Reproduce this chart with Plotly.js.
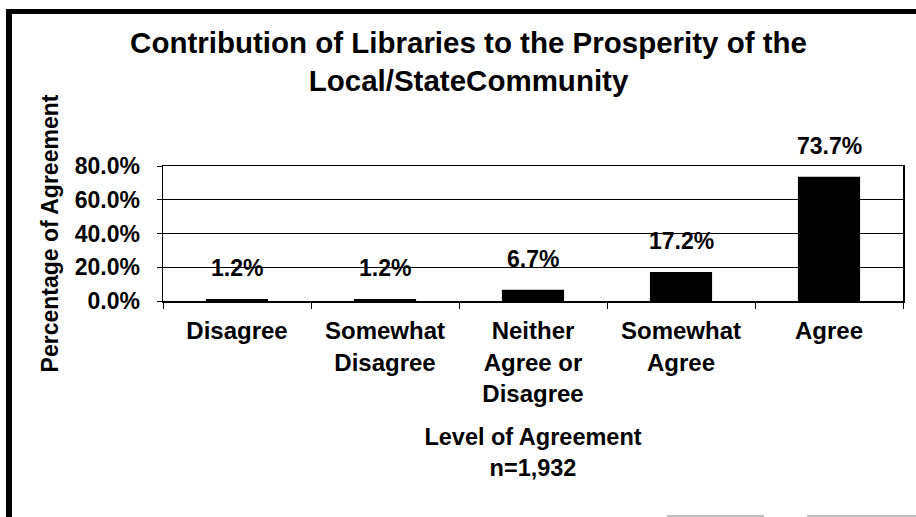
<!DOCTYPE html>
<html>
<head>
<meta charset="utf-8">
<script src="https://cdn.plot.ly/plotly-3.0.1.min.js"></script>
<style>
  html, body { margin: 0; padding: 0; background: #fff; }
  #wrap { position: relative; width: 916px; height: 517px; overflow: hidden; }
  #chart { position: absolute; left: 0; top: 0; width: 916px; height: 517px; }
  .frame { position: absolute; left: 6px; top: 9px; right: -10px; bottom: -10px;
           border-left: 6px solid #000; border-top: 5px solid #000; pointer-events: none; }
  .scan { position: absolute; height: 2px; background: #bdbdbd; top: 515px; pointer-events: none; }
</style>
</head>
<body>
<div id="wrap">
  <div id="chart"></div>
  <div class="frame"></div>
  <div class="scan" style="left:667px;width:97px;"></div>
  <div class="scan" style="left:807px;width:109px;"></div>
</div>
<script>
// ---- data ----
const categories = ['Disagree', 'Somewhat Disagree', 'Neither Agree or Disagree', 'Somewhat Agree', 'Agree'];
const tickLabels = ['Disagree', 'Somewhat<br>Disagree', 'Neither<br>Agree or<br>Disagree', 'Somewhat<br>Agree', 'Agree'];
const agreement = [0.012, 0.012, 0.067, 0.172, 0.737];
const valueLabels = ['1.2%', '1.2%', '6.7%', '17.2%', '73.7%'];
const yTicks = [0, 0.2, 0.4, 0.6, 0.8];
const chartTitle = 'Contribution of Libraries to the Prosperity of the<br>Local/StateCommunity';
const xTitle = 'Level of Agreement<br>n=1,932';
const yTitle = 'Percentage of Agreement';

const FONT = '"Liberation Sans", Arial, Helvetica, sans-serif';

const trace = {
  type: 'bar',
  x: categories,
  y: agreement,
  width: 0.42,
  marker: { color: '#000000', line: { width: 0 } },
  hoverinfo: 'none'
};

const annotations = categories.map((c, i) => ({
  x: c, y: agreement[i], xref: 'x', yref: 'y',
  text: valueLabels[i], showarrow: false,
  yanchor: 'bottom', yshift: 16,
  font: { family: FONT, size: 23, color: '#000', weight: 'bold' }
}));

const layout = {
  width: 916, height: 517,
  margin: { l: 163, r: 13, t: 166, b: 216, pad: 0 },
  paper_bgcolor: '#ffffff',
  plot_bgcolor: '#ffffff',
  showlegend: false,
  bargap: 0.58,
  title: {
    text: chartTitle,
    font: { family: FONT, size: 29.5, color: '#000', weight: 'bold' },
    x: 0.5115, xanchor: 'center', xref: 'container',
    y: 1 - 53 / 517, yanchor: 'top', yref: 'container'
  },
  xaxis: {
    type: 'category',
    tickmode: 'array',
    tickvals: categories,
    ticktext: tickLabels,
    tickson: 'boundaries',
    ticks: 'outside', ticklen: 6, tickwidth: 1, tickcolor: '#000',
    showline: true, linecolor: '#000', linewidth: 1.5, mirror: true,
    showgrid: false, zeroline: false,
    tickfont: { family: FONT, size: 24, color: '#000', weight: 'bold' },
    ticklabelstandoff: 8,
    automargin: false,
    title: { text: xTitle, standoff: 23, font: { family: FONT, size: 23.5, color: '#000', weight: 'bold' } }
  },
  yaxis: {
    range: [0, 0.8],
    tickmode: 'array',
    tickvals: yTicks,
    tickformat: '.1%',
    ticks: 'outside', ticklen: 5, tickwidth: 1, tickcolor: '#000',
    showline: true, linecolor: '#000', linewidth: 1.5, mirror: true,
    showgrid: true, gridcolor: '#000', gridwidth: 1,
    zeroline: false,
    tickfont: { family: FONT, size: 23, color: '#000', weight: 'bold' },
    ticklabelstandoff: 12,
    automargin: false,
    title: { text: yTitle, standoff: 9, font: { family: FONT, size: 23, color: '#000', weight: 'bold' } }
  },
  annotations: annotations
};

Plotly.newPlot('chart', [trace], layout, { staticPlot: true, displayModeBar: false });
</script>
</body>
</html>
